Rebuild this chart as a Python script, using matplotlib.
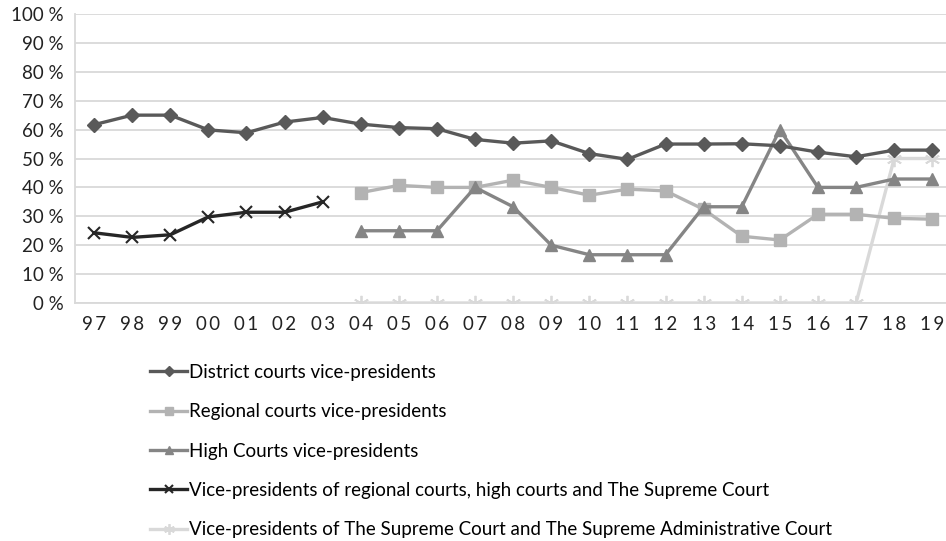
import numpy as np
import matplotlib
matplotlib.use('Agg')
import matplotlib.pyplot as plt
from matplotlib.ticker import FuncFormatter

years = ['97', '98', '99', '00', '01', '02', '03', '04', '05', '06', '07', '08',
         '09', '10', '11', '12', '13', '14', '15', '16', '17', '18', '19']

district = [61.7, 65.0, 65.0, 59.9, 58.9, 62.6, 64.2, 61.9, 60.7, 60.3, 56.6, 55.3,
            56.1, 51.7, 49.7, 55.0, 55.0, 55.1, 54.4, 52.2, 50.6, 52.9, 52.9]
regional = [None] * 7 + [38.2, 40.7, 40.0, 40.0, 42.5, 40.0, 37.3, 39.4, 38.8,
                         32.4, 23.1, 21.8, 30.7, 30.7, 29.3, 29.0]
high = [None] * 7 + [25.0, 25.0, 25.0, 40.0, 33.3, 20.0, 16.7, 16.7, 16.7,
                     33.3, 33.3, 60.0, 40.0, 40.0, 42.9, 42.9]
combined = [24.3, 22.7, 23.6, 29.8, 31.4, 31.4, 35.0] + [None] * 16
supreme = [None] * 7 + [0.0] * 14 + [50.0, 50.0]

labels = ['District courts vice-presidents',
          'Regional courts vice-presidents',
          'High Courts vice-presidents',
          'Vice-presidents of regional courts, high courts and The Supreme Court',
          'Vice-presidents of The Supreme Court and The Supreme Administrative Court']

plt.rcParams['font.family'] = ['Lato', 'DejaVu Sans']

fig = plt.figure(figsize=(9.46, 5.41), dpi=100)
ax = fig.add_axes([75 / 946, 1 - 303 / 541, 871 / 946, 289 / 541])

x = np.arange(len(years))


def arr(v):
    return np.array([np.nan if a is None else a for a in v], dtype=float)


l1, = ax.plot(x, arr(district), color='#595959', lw=2.4, marker='D', ms=7.5, zorder=6)
l2, = ax.plot(x, arr(regional), color='#b3b3b3', lw=2.4, marker='s', ms=8.5, zorder=3)
l3, = ax.plot(x, arr(high), color='#858585', lw=2.4, marker='^', ms=9, zorder=4)
l4, = ax.plot(x, arr(combined), color='#262626', lw=2.4, marker='x', ms=9,
              mew=1.5, zorder=5)
l5, = ax.plot(x, arr(supreme), color='#d9d9d9', lw=2.4, marker=(6, 2, 0), ms=11,
              mew=1.3, zorder=2)

ax.set_xlim(-0.5, 22.36)
ax.set_ylim(0, 100)
ax.set_yticks(np.arange(0, 101, 10))
ax.yaxis.set_major_formatter(FuncFormatter(lambda v, p: f'{int(v)} %'))
ax.set_xticks(x)
ax.set_xticklabels(['\u2009'.join(y) for y in years])
ax.tick_params(length=0, labelsize=13.5, colors='#222222')
ax.tick_params(axis='x', pad=9)
ax.tick_params(axis='y', pad=8)

ax.grid(axis='y', color='#d9d9d9', lw=1.3)
ax.set_axisbelow(True)
for s in ['top', 'right']:
    ax.spines[s].set_visible(False)
ax.spines['left'].set_color('#d9d9d9')
ax.spines['bottom'].set_color('#d9d9d9')
ax.spines['left'].set_linewidth(1.3)
ax.spines['bottom'].set_linewidth(1.3)

leg = fig.legend([l1, l2, l3, l4, l5], labels, loc='upper left',
                 bbox_to_anchor=(133 / 946, 1 - 347 / 541), frameon=False,
                 fontsize=13.5, handlelength=2.0, handletextpad=0.1,
                 labelspacing=1.19, markerscale=0.7)

fig.savefig('out.png', dpi=100)
